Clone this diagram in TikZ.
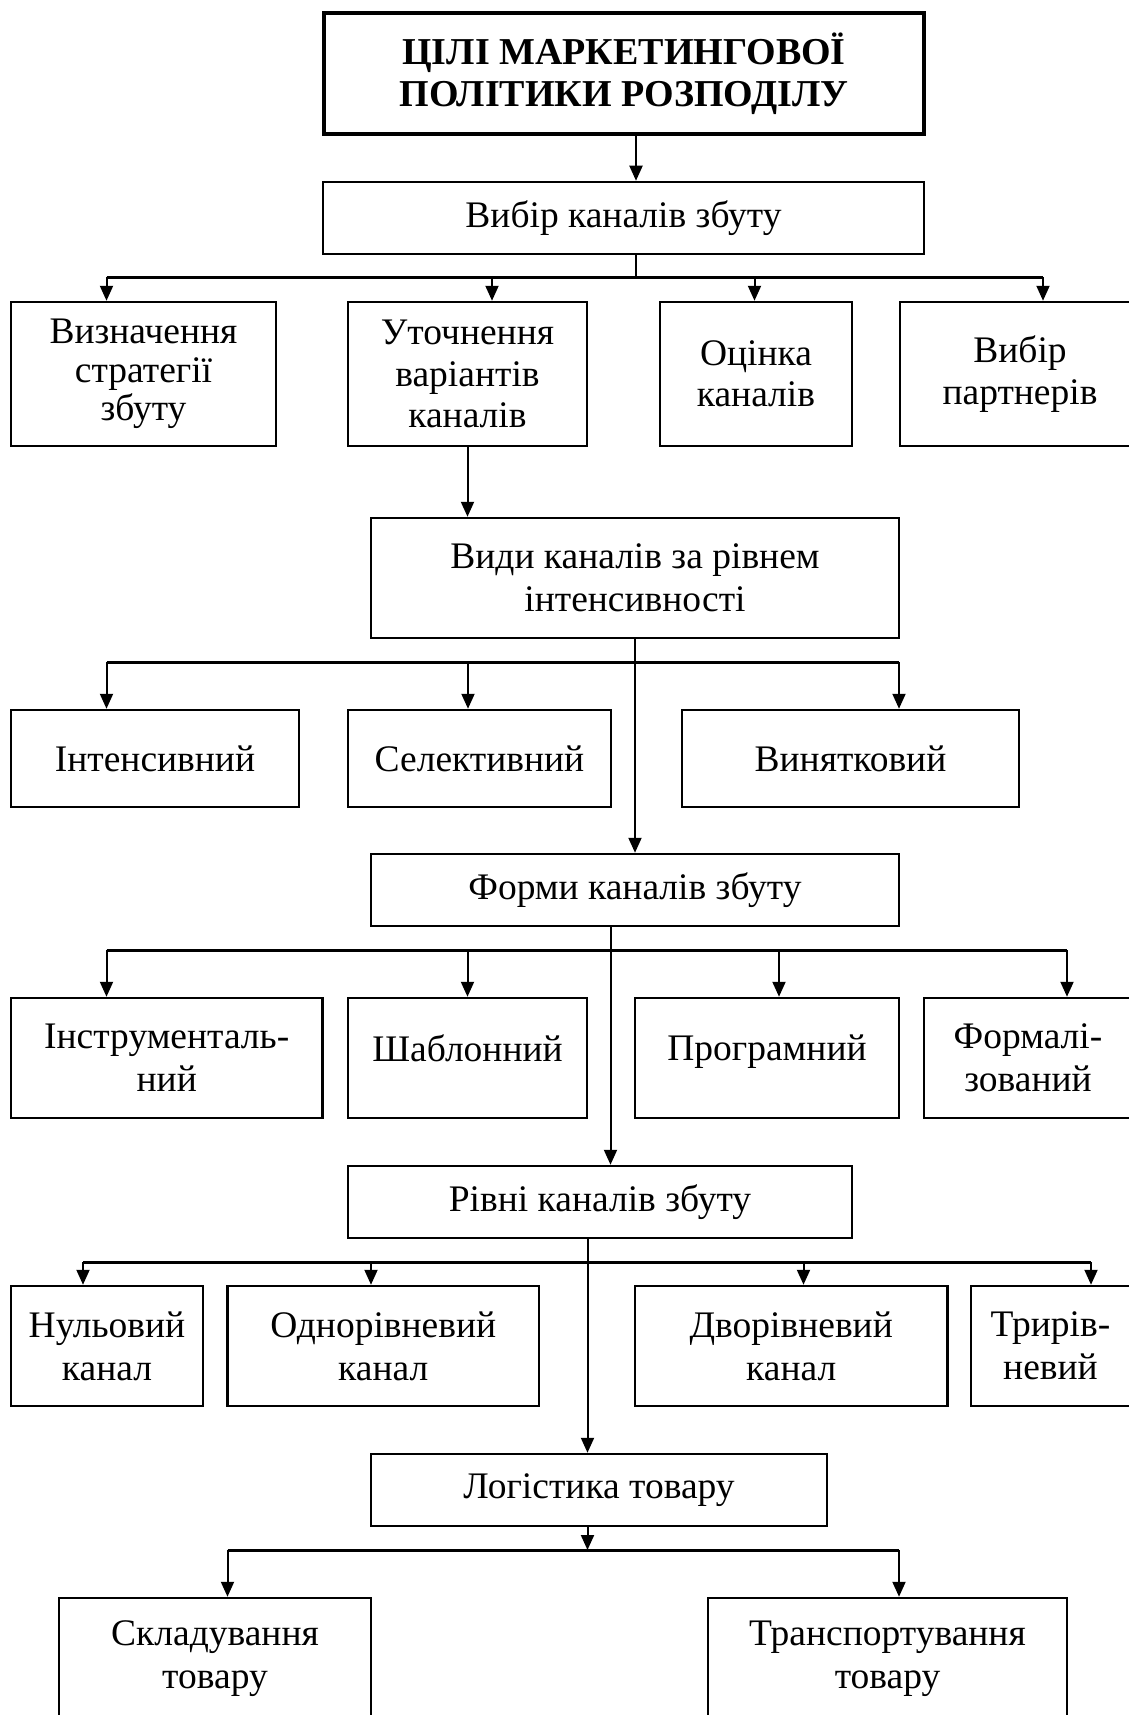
\documentclass[tikz,border=0pt]{standalone}
\usepackage{fontspec}
\setmainfont{Liberation Serif}
\usepackage{tikz}
\usetikzlibrary{arrows.meta}

\begin{document}
\begin{tikzpicture}[x=1pt, y=-1pt,
    box/.style={draw, line width=2.5pt, align=center, inner sep=2pt,
                font=\fontsize{37.5}{43}\selectfont},
    tallbox/.style={box, font=\fontsize{37.5}{41.5}\selectfont},
    goalbox/.style={box, line width=4.5pt, font=\bfseries\fontsize{38}{42}\selectfont},
    link/.style={line width=2pt},
    bus/.style={line width=3pt},
    arr/.style={line width=2pt, -{Triangle[length=15pt, width=13pt]}}]
    \useasboundingbox[fill=white] (0,0) rectangle (1129,1715);

    % top level
    \node[goalbox, minimum width=600pt, minimum height=121pt] (goal) at (624,73.5)
      {ЦІЛІ МАРКЕТИНГОВОЇ\\ПОЛІТИКИ РОЗПОДІЛУ};
    \node[box, minimum width=601pt, minimum height=72pt] (choice) at (623.5,218)
      {Вибір каналів збуту};

    % first row
    \node[tallbox, font=\fontsize{37.5}{38.5}\selectfont,
          minimum width=265pt, minimum height=144pt] (strat) at (143.5,374)
      {Визначення\\стратегії\\збуту};
    \node[tallbox, minimum width=239pt, minimum height=144pt] (var) at (467.5,374)
      {Уточнення\\варіантів\\каналів};
    \node[tallbox, minimum width=192pt, minimum height=144pt] (eval) at (756,374)
      {Оцінка\\каналів};
    \node[tallbox, minimum width=240pt, minimum height=144pt] (partner) at (1020,374)
      {Вибір\\партнерів};

    % intensity
    \node[box, minimum width=528pt, minimum height=120pt] (kinds) at (635,578)
      {Види каналів за рівнем\\інтенсивності};
    \node[box, minimum width=288pt, minimum height=97pt] (intens) at (155,758.5)
      {Інтенсивний};
    \node[box, minimum width=263pt, minimum height=97pt] (select) at (479.5,758.5)
      {Селективний};
    \node[box, minimum width=337pt, minimum height=97pt] (exclus) at (850.5,758.5)
      {Винятковий};

    % forms
    \node[box, minimum width=528pt, minimum height=72pt] (forms) at (635,890)
      {Форми каналів збуту};
    \node[box, minimum width=311.5pt, minimum height=120pt] (instr) at (166.75,1058)
      {Інструменталь-\\ний};
    \node[box, minimum width=239pt, minimum height=120pt] (templ) at (467.5,1058)
      {Шаблонний\\[-23pt]\mbox{}};
    \node[box, minimum width=264pt, minimum height=120pt] (progr) at (767,1058)
      {Програмний\\[-23pt]\mbox{}};
    \node[box, minimum width=208pt, minimum height=120pt] (formal) at (1028,1058)
      {Формалі-\\зований};

    % levels
    \node[box, minimum width=504pt, minimum height=72pt] (levels) at (600,1202)
      {Рівні каналів збуту};
    \node[box, minimum width=192pt, minimum height=120pt] (zero) at (107,1346)
      {Нульовий\\канал};
    \node[box, minimum width=311.5pt, minimum height=120pt] (one) at (383.25,1346)
      {Однорівневий\\канал};
    \node[box, minimum width=312.5pt, minimum height=120pt] (two) at (791.25,1346)
      {Дворівневий\\канал};
    \node[box, minimum width=159pt, minimum height=120pt] (three) at (1050.5,1346)
      {Трирів-\\невий};

    % logistics
    \node[box, minimum width=456pt, minimum height=72pt] (logist) at (599,1490)
      {Логістика товару};
    \node[box, minimum width=312pt, minimum height=122pt] (store) at (215,1659)
      {Складування\\товару};
    \node[box, minimum width=359pt, minimum height=122pt] (transp) at (887.5,1659)
      {Транспортування\\товару};

    % junctions
    \coordinate (j1) at ([xshift=12.5pt]choice.south |- 0,277);
    \coordinate (j2) at (kinds.south |- 0,662);
    \coordinate (j3) at ([xshift=-24.5pt]forms.south |- 0,950);
    \coordinate (j4) at ([xshift=-12.5pt]levels.south |- 0,1262);
    \coordinate (j5) at ([xshift=-11.5pt]logist.south |- 0,1550);

    % entry points
    \coordinate (s1) at ([xshift=-37pt]strat.north);
    \coordinate (s2) at ([xshift=24.5pt]var.north);
    \coordinate (s3) at ([xshift=-1.5pt]eval.north);
    \coordinate (s4) at ([xshift=23pt]partner.north);
    \coordinate (i1) at ([xshift=-48.5pt]intens.north);
    \coordinate (i2) at ([xshift=-11.5pt]select.north);
    \coordinate (i3) at ([xshift=48.5pt]exclus.north);
    \coordinate (f1) at ([xshift=-60.25pt]instr.north);
    \coordinate (f2) at (templ.north);
    \coordinate (f3) at ([xshift=12pt]progr.north);
    \coordinate (f4) at ([xshift=39pt]formal.north);
    \coordinate (r1) at ([xshift=-24pt]zero.north);
    \coordinate (r2) at ([xshift=-12.25pt]one.north);
    \coordinate (r3) at ([xshift=12.25pt]two.north);
    \coordinate (r4) at ([xshift=40.5pt]three.north);
    \coordinate (l1) at ([xshift=12.5pt]store.north);
    \coordinate (l2) at ([xshift=11.5pt]transp.north);

    % connectors
    \draw[arr] (goal.south -| j1) -- (choice.north -| j1);
    \draw[link] (choice.south -| j1) -- (j1);
    \draw[bus] (s1 |- j1) -- (s4 |- j1);
    \foreach \t in {s1, s2, s3, s4}
      \draw[arr] (\t |- j1) -- (\t);

    \draw[arr] (var.south) -- (var.south |- kinds.north);
    \draw[bus] (i1 |- j2) -- (i3 |- j2);
    \foreach \t in {i1, i2, i3}
      \draw[arr] (\t |- j2) -- (\t);
    \draw[arr] (kinds.south) -- (forms.north);

    \draw[bus] (f1 |- j3) -- (f4 |- j3);
    \foreach \t in {f1, f2, f3, f4}
      \draw[arr] (\t |- j3) -- (\t);
    \draw[arr] (forms.south -| j3) -- (levels.north -| j3);

    \draw[bus] (r1 |- j4) -- (r4 |- j4);
    \foreach \t in {r1, r2, r3, r4}
      \draw[arr] (\t |- j4) -- (\t);
    \draw[arr] (levels.south -| j4) -- (logist.north -| j4);

    \draw[arr] (logist.south -| j5) -- (j5);
    \draw[bus] (l1 |- j5) -- (l2 |- j5);
    \foreach \t in {l1, l2}
      \draw[arr] (\t |- j5) -- (\t);
  \end{tikzpicture}
\end{document}
